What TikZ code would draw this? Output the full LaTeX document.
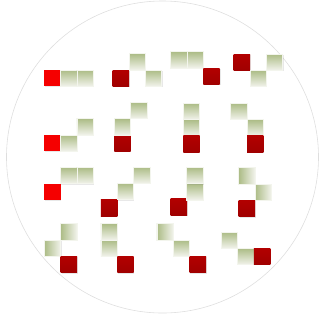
\documentclass[tikz,border=0pt]{standalone}
\usepackage{tikz}
\usetikzlibrary{positioning,shadows}

\definecolor{olivetop}{RGB}{172,188,134}
\definecolor{olivebot}{RGB}{242,243,236}
\definecolor{brightred}{RGB}{245,0,0}
\definecolor{deepred}{RGB}{178,0,0}
\definecolor{deepredbot}{RGB}{160,0,0}

\begin{document}
\begin{tikzpicture}[
    x=0.03cm, y=-0.03cm,
    sq/.style={
        rectangle,
        inner sep=0pt,
        outer sep=0pt,
        minimum size=0.49cm,
        drop shadow={opacity=0.18, shadow xshift=0.7pt, shadow yshift=-0.7pt}
    },
    gsq/.style={sq, top color=olivetop, bottom color=olivebot,
        draw=white!85!olivetop, line width=0.4pt},
    gsqh/.style={sq, left color=olivetop, right color=olivebot,
        draw=white!85!olivetop, line width=0.4pt},
    rsq/.style={sq, fill=brightred},
    dsq/.style={sq, top color=deepred, bottom color=deepredbot},
    ring/.style={draw=black!13, line width=0.5pt},
    node distance=0pt
]

\useasboundingbox (0,0) rectangle (320,322);

\coordinate (c) at (162.5,157);
\draw[ring] (c) circle[radius=4.68cm];

%% ===== ROW 1 =====
\node[rsq, anchor=north west] (r1) at (44.3,70) {};
\node[gsq, right=of r1] (g1a) {};
\node[gsq, right=of g1a] (g1b) {};

\node[dsq, anchor=north west] (r2) at (112.7,70) {};
\node[gsq, above right=of r2] (g2a) {};
\node[gsq, below right=of g2a] (g2b) {};

\node[gsq, anchor=north west] (g3a) at (170.7,51.7) {};
\node[gsq, right=of g3a] (g3b) {};
\node[dsq, below right=of g3b] (r3) {};

\node[dsq, anchor=north west] (r4) at (233.7,54) {};
\node[gsq, below right=of r4] (g4a) {};
\node[gsq, above right=of g4a] (g4b) {};

%% ===== ROW 2 =====
\node[rsq, anchor=north west] (r5) at (44.3,135) {};
\node[gsq, right=of r5] (g5a) {};
\node[gsq, above right=of g5a] (g5b) {};

\node[dsq, anchor=north west] (r6) at (114.3,135) {};
\node[gsq, above=of r6] (g6a) {};
\node[gsq, above right=of g6a] (g6b) {};

\node[gsq, anchor=north west] (g7a) at (183.3,103.3) {};
\node[gsq, below=of g7a] (g7b) {};
\node[dsq, below=of g7b] (r7) {};

\node[gsq, anchor=north west] (g8a) at (230.7,103.3) {};
\node[gsq, below right=of g8a] (g8b) {};
\node[dsq, below=of g8b] (r8) {};

%% ===== ROW 3 =====
\node[rsq, anchor=north west] (r9) at (44.3,183.7) {};
\node[gsq, above right=of r9] (g9a) {};
\node[gsq, right=of g9a] (g9b) {};

\node[dsq, anchor=north west] (r10) at (101,199.7) {};
\node[gsq, above right=of r10] (g10a) {};
\node[gsq, above right=of g10a] (g10b) {};

\node[dsq, anchor=north west] (r11) at (170.7,198.7) {};
\node[gsq, anchor=north west] (g11a) at (186.7,183.7) {};
\node[gsq, above=of g11a] (g11b) {};

\node[gsqh, anchor=north west] (g12a) at (238.7,167.7) {};
\node[gsqh, below right=of g12a] (g12b) {};
\node[dsq, below left=of g12b] (r12) {};

%% ===== ROW 4 =====
\node[gsqh, anchor=north west] (g13a) at (60.7,223.7) {};
\node[gsqh, below left=of g13a] (g13b) {};
\node[dsq, below right=of g13b] (r13) {};

\node[gsq, anchor=north west] (g14a) at (101,223.7) {};
\node[gsq, below=of g14a] (g14b) {};
\node[dsq, below right=of g14b] (r14) {};

\node[gsqh, anchor=north west] (g15a) at (157,223.7) {};
\node[gsq, below right=of g15a] (g15b) {};
\node[dsq, below right=of g15b] (r15) {};

\node[gsq, anchor=north west] (g16a) at (221.3,232) {};
\node[gsq, below right=of g16a] (g16b) {};
\node[dsq, right=of g16b] (r16) {};

\end{tikzpicture}
\end{document}
